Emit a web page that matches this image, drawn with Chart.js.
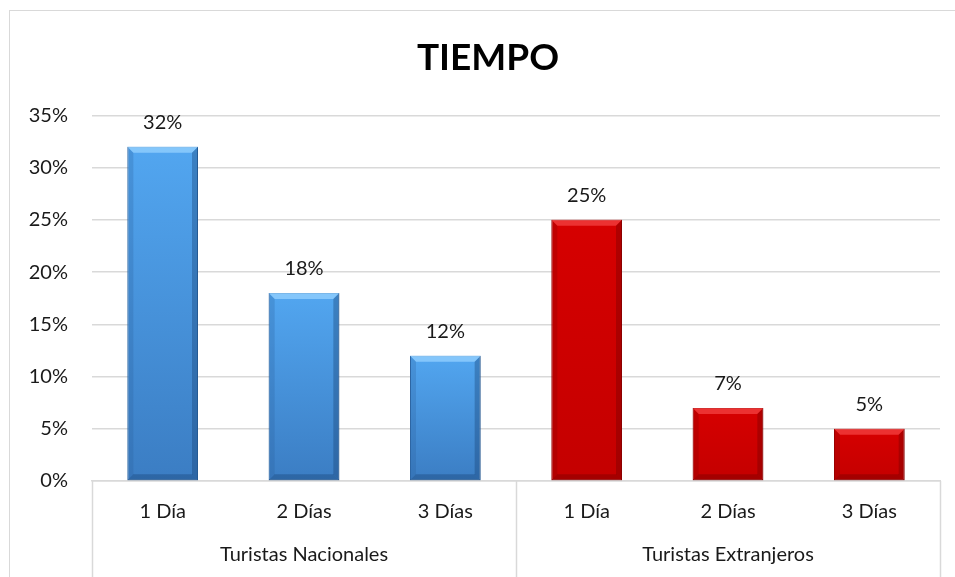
<!DOCTYPE html>
<html>
<head>
<meta charset="utf-8">
<script src="https://cdn.jsdelivr.net/npm/chart.js@4"></script>
<style>
html,body{margin:0;padding:0;background:#fff;overflow:hidden;}
#wrap{position:absolute;left:0;top:0;width:955px;height:577px;}
</style>
</head>
<body>
<div id="wrap"><canvas id="c" width="955" height="577"></canvas></div>
<script>
const title = 'TIEMPO';
const days = ['1 Día', '2 Días', '3 Días'];
const groups = ['Turistas Nacionales', 'Turistas Extranjeros'];
const nacionales = [32, 18, 12];
const extranjeros = [25, 7, 5];
const yTicks = [0, 5, 10, 15, 20, 25, 30, 35];

const labels = days.concat(days);
const values = nacionales.concat(extranjeros);
const groupOf = [0, 0, 0, 1, 1, 1];

const FONT = 'Lato, "Open Sans", sans-serif';
const GRID = '#d9d9d9';

function barFill(ctx) {
  const chart = ctx.chart;
  const g = groupOf[ctx.dataIndex];
  const ys = chart.scales && chart.scales.y;
  const flat = g === 0 ? '#4a93da' : '#cc0000';
  if (!ys) return flat;
  const top = ys.getPixelForValue(values[ctx.dataIndex]);
  const bottom = ys.getPixelForValue(0);
  if (!isFinite(top) || !isFinite(bottom) || top === bottom) return flat;
  const grad = chart.ctx.createLinearGradient(0, top, 0, bottom);
  if (g === 0) {
    grad.addColorStop(0, '#52a6f0');
    grad.addColorStop(1, '#3b7dc3');
  } else {
    grad.addColorStop(0, '#d60000');
    grad.addColorStop(1, '#c40000');
  }
  return grad;
}

const framePlugin = {
  id: 'frame',
  afterLayout(chart) {
    // centre the title over the whole (cropped) chart object, as in the reference
    const t = chart.titleBlock;
    if (t) { t.left = 36; t.right = chart.chartArea.right; }
  },
  beforeDraw(chart) {
    const c = chart.ctx;
    c.save();
    c.strokeStyle = GRID;
    c.lineWidth = 1;
    c.strokeRect(9.5, 10.5, 2000, 2000);
    c.restore();
  }
};

const bevelPlugin = {
  id: 'bevel',
  afterDatasetsDraw(chart) {
    const c = chart.ctx;
    const meta = chart.getDatasetMeta(0);
    meta.data.forEach((bar, i) => {
      const g = groupOf[i];
      const hw = bar.width / 2;
      const l = bar.x - hw, r = bar.x + hw, t = bar.y, b = bar.base;
      const d = 6;
      c.save();
      c.beginPath();
      c.moveTo(l, t); c.lineTo(r, t); c.lineTo(r - d, t + d); c.lineTo(l + d, t + d); c.closePath();
      c.fillStyle = g === 0 ? 'rgba(150,210,255,0.75)' : 'rgba(255,90,90,0.55)';
      c.fill();
      c.beginPath();
      c.moveTo(l, t); c.lineTo(l + d, t + d); c.lineTo(l + d, b - d); c.lineTo(l, b); c.closePath();
      c.fillStyle = g === 0 ? 'rgba(40,90,150,0.25)' : 'rgba(120,0,0,0.22)';
      c.fill();
      c.beginPath();
      c.moveTo(r, t); c.lineTo(r - d, t + d); c.lineTo(r - d, b - d); c.lineTo(r, b); c.closePath();
      c.fillStyle = g === 0 ? 'rgba(20,60,110,0.35)' : 'rgba(90,0,0,0.3)';
      c.fill();
      c.beginPath();
      c.moveTo(l, b); c.lineTo(l + d, b - d); c.lineTo(r - d, b - d); c.lineTo(r, b); c.closePath();
      c.fillStyle = g === 0 ? 'rgba(20,60,110,0.35)' : 'rgba(90,0,0,0.3)';
      c.fill();
      c.restore();
    });
  }
};

const labelPlugin = {
  id: 'valueLabels',
  afterDatasetsDraw(chart) {
    const c = chart.ctx;
    const meta = chart.getDatasetMeta(0);
    c.save();
    c.font = '20px ' + FONT;
    c.fillStyle = '#1a1a1a';
    c.textAlign = 'center';
    c.textBaseline = 'middle';
    meta.data.forEach((bar, i) => {
      c.fillText(values[i] + '%', bar.x, bar.y - 24);
    });
    c.restore();
  }
};

const sepPlugin = {
  id: 'separators',
  afterDraw(chart) {
    const c = chart.ctx;
    const x = chart.scales.x;
    const area = chart.chartArea;
    const mid = (x.getPixelForValue(2) + x.getPixelForValue(3)) / 2;
    const xs = [area.left, mid, area.right];
    c.save();
    c.strokeStyle = GRID;
    c.lineWidth = 1.5;
    xs.forEach(px => {
      c.beginPath();
      c.moveTo(Math.round(px) + 0.5, area.bottom);
      c.lineTo(Math.round(px) + 0.5, chart.height);
      c.stroke();
    });
    c.restore();
  }
};

new Chart(document.getElementById('c'), {
  type: 'bar',
  data: {
    labels: labels,
    datasets: [{
      data: values,
      backgroundColor: barFill,
      borderColor: ctx => groupOf[ctx.dataIndex] === 0 ? '#2f6aa8' : '#a30000',
      borderWidth: 1,
      borderSkipped: false,
      barPercentage: 0.5,
      categoryPercentage: 1.0
    }]
  },
  options: {
    responsive: false,
    animation: false,
    devicePixelRatio: 1,
    layout: { padding: { left: 0, right: 15, top: 10, bottom: 0 } },
    plugins: {
      legend: { display: false },
      tooltip: { enabled: false },
      title: {
        display: true,
        text: title,
        color: '#000',
        font: { family: FONT, size: 37, weight: 'bold' },
        padding: { top: 26, bottom: 35 }
      }
    },
    scales: {
      y: {
        min: 0,
        max: 35,
        afterBuildTicks: s => { s.ticks = yTicks.map(v => ({ value: v })); },
        afterFit: s => { s.width = 92; },
        ticks: {
          callback: v => v + '%',
          color: '#1a1a1a',
          font: { family: FONT, size: 20 },
          padding: 24
        },
        grid: { color: GRID, lineWidth: 1.5, drawTicks: false },
        border: { display: false }
      },
      x: {
        position: 'bottom',
        afterFit: s => { s.height = 52; },
        ticks: {
          color: '#1a1a1a',
          font: { family: FONT, size: 20 },
          padding: 19,
          maxRotation: 0
        },
        grid: { display: false, drawTicks: false },
        border: { display: true, color: GRID, width: 1.5 }
      },
      x2: {
        type: 'category',
        position: 'bottom',
        labels: groups,
        offset: true,
        afterFit: s => { s.height = 44; },
        ticks: {
          color: '#1a1a1a',
          font: { family: FONT, size: 20 },
          padding: 10,
          maxRotation: 0
        },
        grid: { display: false, drawTicks: false },
        border: { display: false }
      }
    }
  },
  plugins: [framePlugin, bevelPlugin, labelPlugin, sepPlugin]
});
</script>
</body>
</html>
